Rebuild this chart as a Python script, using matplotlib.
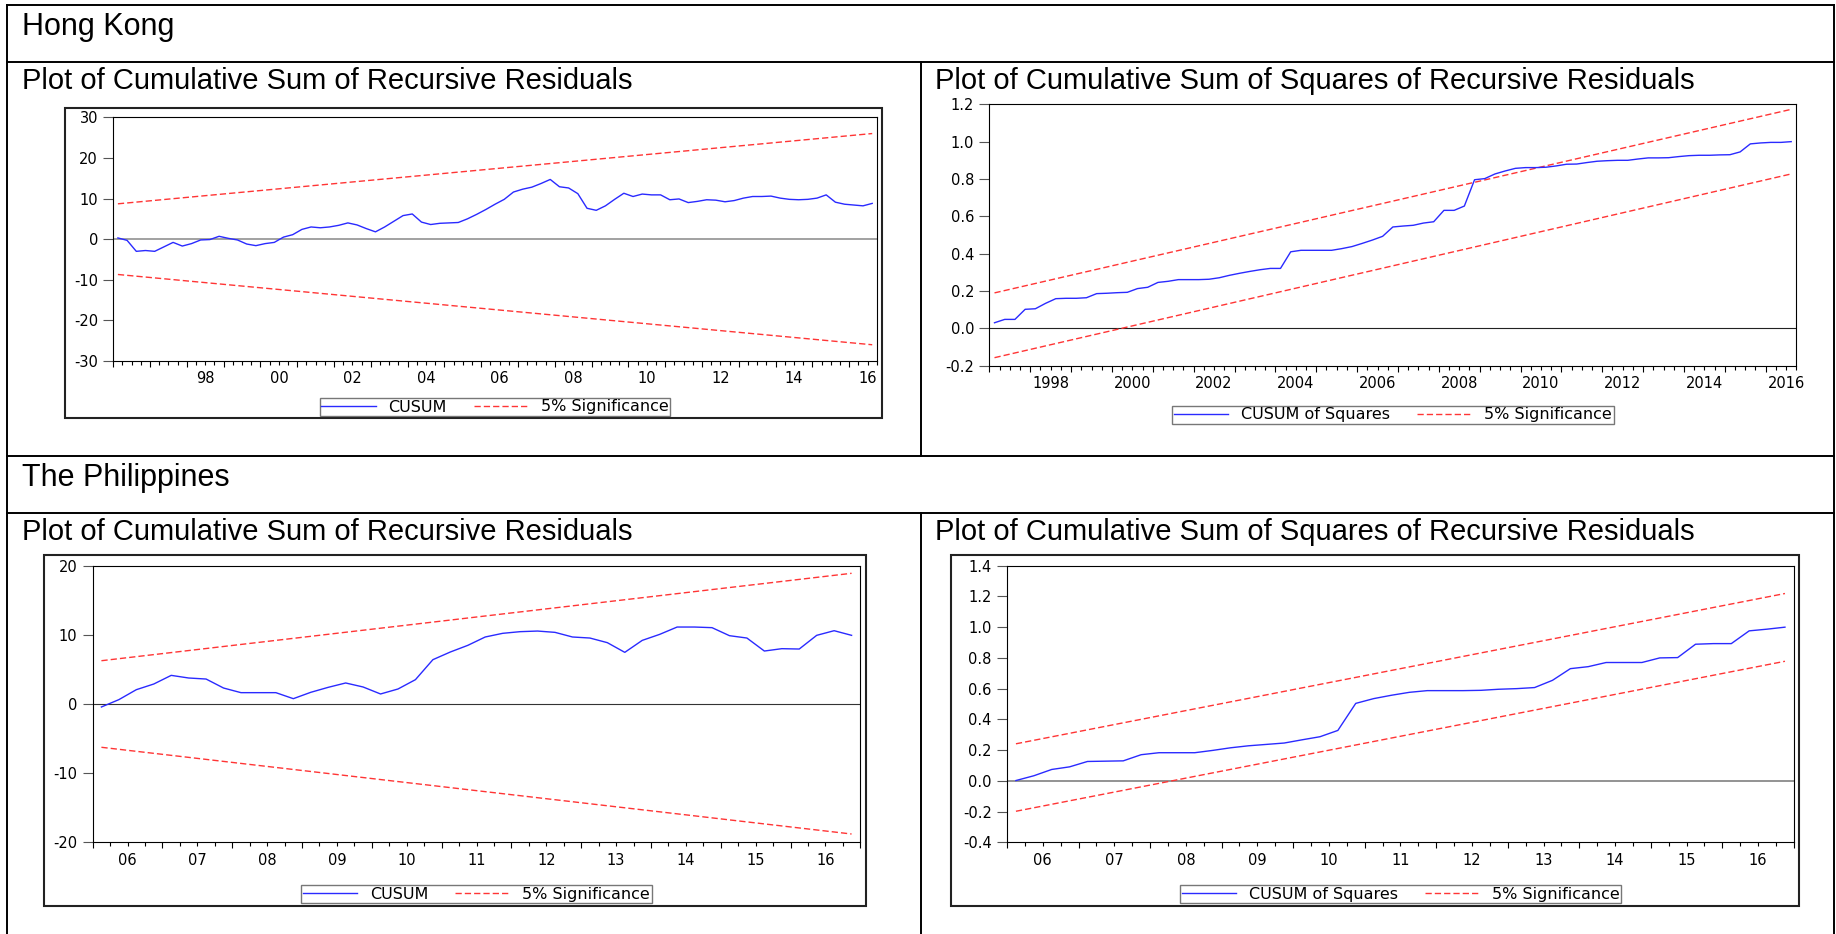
import matplotlib
matplotlib.use("Agg")
import matplotlib.pyplot as plt
from matplotlib.lines import Line2D
from matplotlib.patches import Rectangle
import numpy as np

plt.rcParams["axes.unicode_minus"] = False
plt.rcParams["font.family"] = ["DejaVu Sans"]

W, H = 1836, 934
fig = plt.figure(figsize=(W / 100, H / 100), dpi=100)
fig.patch.set_facecolor("white")

##----Data (quarterly)----
hk_start = (1996, 1)
hk_cusum = [0.3, -0.3, -3.0, -2.8, -3.0, -1.9, -0.8, -1.7, -1.1, -0.2,
            -0.1, 0.7, 0.2, -0.2, -1.2, -1.6, -1.1, -0.8, 0.5, 1.1,
            2.4, 3.0, 2.8, 3.0, 3.4, 4.0, 3.5, 2.6, 1.8, 3.0,
            4.4, 5.8, 6.2, 4.2, 3.6, 3.9, 4.0, 4.1, 5.0, 6.1,
            7.3, 8.6, 9.8, 11.6, 12.3, 12.8, 13.7, 14.7, 12.9, 12.6,
            11.2, 7.6, 7.1, 8.2, 9.8, 11.3, 10.5, 11.1, 10.9, 10.9,
            9.7, 9.9, 9.0, 9.3, 9.7, 9.6, 9.2, 9.5, 10.1, 10.5,
            10.5, 10.6, 10.1, 9.8, 9.7, 9.8, 10.1, 10.9, 9.1, 8.6,
            8.4, 8.2, 8.8]
hk_cusum_upper = [8.7, 26.0]
hk_cusum_lower = [-8.7, -26.0]

hk_sq_start = (1997, 1)
hk_cusumsq = [0.030, 0.048, 0.048, 0.102, 0.105, 0.134, 0.159, 0.161, 0.161, 0.164,
              0.186, 0.188, 0.191, 0.193, 0.213, 0.220, 0.246, 0.252, 0.261, 0.261,
              0.261, 0.263, 0.271, 0.284, 0.295, 0.305, 0.314, 0.321, 0.321, 0.410,
              0.418, 0.418, 0.418, 0.418, 0.427, 0.438, 0.455, 0.473, 0.493, 0.543,
              0.548, 0.552, 0.564, 0.571, 0.632, 0.632, 0.655, 0.796, 0.802, 0.827,
              0.843, 0.857, 0.861, 0.861, 0.863, 0.870, 0.879, 0.880, 0.888, 0.895,
              0.898, 0.900, 0.900, 0.907, 0.913, 0.913, 0.914, 0.920, 0.925, 0.927,
              0.927, 0.929, 0.930, 0.945, 0.988, 0.993, 0.996, 0.996, 1.000]
hk_sq_upper = [0.19, 1.173]
hk_sq_lower = [-0.157, 0.827]

ph_start = (2006, 1)
ph_cusum = [-0.43, 0.63, 2.07, 2.89, 4.14, 3.76, 3.61, 2.31, 1.64, 1.64,
            1.64, 0.77, 1.69, 2.41, 3.04, 2.46, 1.45, 2.17, 3.52, 6.41,
            7.52, 8.48, 9.69, 10.22, 10.46, 10.55, 10.36, 9.69, 9.54, 8.87,
            7.47, 9.2, 10.07, 11.13, 11.13, 11.04, 9.88, 9.54, 7.66, 8.0,
            7.95, 9.93, 10.6, 9.93]
ph_cusum_upper = [6.26, 18.9]
ph_cusum_lower = [-6.26, -18.8]

ph_cusumsq = [0.002, 0.033, 0.074, 0.091, 0.126, 0.128, 0.130, 0.170, 0.183, 0.183,
              0.183, 0.198, 0.215, 0.228, 0.237, 0.246, 0.267, 0.287, 0.328, 0.504,
              0.535, 0.557, 0.576, 0.587, 0.587, 0.587, 0.589, 0.596, 0.600, 0.607,
              0.654, 0.730, 0.743, 0.770, 0.770, 0.770, 0.800, 0.802, 0.889, 0.893,
              0.893, 0.976, 0.987, 1.000]
ph_sq_upper = [0.241, 1.219]
ph_sq_lower = [-0.198, 0.778]

cusum_ticks_hk = [-30, -20, -10, 0, 10, 20, 30]
cusum_ticks_ph = [-20, -10, 0, 10, 20]
sq_ticks_hk = [-0.2, 0.0, 0.2, 0.4, 0.6, 0.8, 1.0, 1.2]
sq_ticks_ph = [-0.4, -0.2, 0.0, 0.2, 0.4, 0.6, 0.8, 1.0, 1.2, 1.4]

hk_label_years = list(range(1998, 2017, 2))
ph_label_years = list(range(2006, 2017))

TITLE_FONT = "Liberation Sans"
BLUE = "#2a2aff"
RED = "#ff3535"
TICK_FS = 10.5
LEG_FS = 11.5


def fx(px):
    return px / W


def fy(py):
    return 1 - py / H


def panel(box, values, start, upper, lower, ylim, yticks, yfmt,
          label_years, label_fmt, zero_color, zero_lw, name, leg_center):
    l, t, r, b = box
    ax = fig.add_axes([fx(l), fy(b), (r - l) / W, (b - t) / H])
    n = len(values)
    x0 = start[0] + (start[1] - 1) / 4
    x = x0 + (np.arange(n) + 0.5) / 4
    ax.axhline(0, color=zero_color, lw=zero_lw, zorder=1)
    ax.plot(x, values, color=BLUE, lw=1.0, label=name, zorder=3)
    ax.plot([x[0], x[-1]], upper, color=RED, lw=1.0, dashes=(4.5, 2.2),
            label="5% Significance", zorder=2)
    ax.plot([x[0], x[-1]], lower, color=RED, lw=1.0, dashes=(4.5, 2.2), zorder=2)
    x1 = x0 + n / 4
    ax.set_xlim(x0, x1)
    ax.set_ylim(*ylim)

    years = np.arange(np.ceil(x0), np.floor(x1) + 1)
    ax.set_xticks(years, labels=[])
    ax.set_xticks(np.arange(x0, x1 + 0.01, 0.25), minor=True)
    ax.tick_params(axis="x", which="major", length=4.5, width=0.8, direction="out")
    ax.tick_params(axis="x", which="minor", length=2.8, width=0.8, direction="out")

    ax.set_yticks(yticks, labels=[yfmt.format(v) for v in yticks])
    ax.tick_params(axis="y", length=7, width=0.8, pad=4, labelsize=TICK_FS, color="#555555")

    sec = ax.secondary_xaxis("bottom")
    sec.set_xticks([y + 0.5 for y in label_years], labels=[label_fmt(y) for y in label_years])
    sec.tick_params(length=0, pad=7.5, labelsize=TICK_FS)
    sec.spines["bottom"].set_visible(False)

    for s in ax.spines.values():
        s.set_linewidth(0.8)
        s.set_color("black")

    leg = ax.legend(loc="center", bbox_to_anchor=(fx(leg_center[0]), fy(leg_center[1])),
                    bbox_transform=fig.transFigure, ncol=2, frameon=True, fancybox=False,
                    edgecolor="#555555", fontsize=LEG_FS, handlelength=3.4,
                    handletextpad=0.8, columnspacing=1.7, borderpad=0.1,
                    borderaxespad=0)
    leg.get_frame().set_linewidth(1.0)
    return ax


def frame(l, t, r, b):
    fig.add_artist(Rectangle((fx(l), fy(b)), (r - l) / W, (b - t) / H,
                             transform=fig.transFigure, fill=False,
                             edgecolor="#222222", lw=1.5, zorder=0))


def hline(y, x0=7, x1=1834):
    fig.add_artist(Line2D([fx(x0), fx(x1)], [fy(y), fy(y)], color="black", lw=1.4))


def vline(x, y0, y1):
    fig.add_artist(Line2D([fx(x), fx(x)], [fy(y0), fy(y1)], color="black", lw=1.4))


##----Table grid----
for yy in [4.7, 61.7, 455.7, 512.7]:
    hline(yy)
vline(7, 4.7, 934)
vline(1834, 4.7, 934)
vline(920.7, 61.7, 455.7)
vline(920.7, 512.7, 934)

##----Headings----
fig.text(fx(22), fy(35), "Hong Kong", fontsize=22, family=TITLE_FONT, va="baseline")
fig.text(fx(22), fy(486), "The Philippines", fontsize=22, family=TITLE_FONT, va="baseline")
t_cusum = "Plot of Cumulative Sum of Recursive Residuals"
t_sq = "Plot of Cumulative Sum of Squares of Recursive Residuals"
fig.text(fx(22), fy(89.3), t_cusum, fontsize=21, family=TITLE_FONT, va="baseline")
fig.text(fx(935.4), fy(89.3), t_sq, fontsize=21, family=TITLE_FONT, va="baseline")
fig.text(fx(22), fy(540), t_cusum, fontsize=21, family=TITLE_FONT, va="baseline")
fig.text(fx(935.4), fy(540), t_sq, fontsize=21, family=TITLE_FONT, va="baseline")

##----Graph frames----
frame(64.6, 108.3, 881.5, 417.7)
frame(44, 555, 865.6, 905.7)
frame(951.2, 555, 1799.2, 905.7)

##----Panels----
short = lambda y: f"{y % 100:02d}"
full = lambda y: f"{y}"

panel((113.3, 117.3, 876.8, 361), hk_cusum, hk_start, hk_cusum_upper, hk_cusum_lower,
      (-30, 30), cusum_ticks_hk, "{:.0f}", hk_label_years, short,
      "#9a9a9a", 1.3, "CUSUM", (495, 407))
panel((989.4, 104.3, 1796.3, 365.7), hk_cusumsq, hk_sq_start, hk_sq_upper, hk_sq_lower,
      (-0.2, 1.2), sq_ticks_hk, "{:.1f}", hk_label_years, full,
      "#222222", 0.8, "CUSUM of Squares", (1393.1, 414.7))
panel((92.7, 565.7, 860.3, 842.3), ph_cusum, ph_start, ph_cusum_upper, ph_cusum_lower,
      (-20, 20), cusum_ticks_ph, "{:.0f}", ph_label_years, short,
      "#333333", 0.8, "CUSUM", (476.3, 894.2))
panel((1007, 565.7, 1793.9, 842.3), ph_cusumsq, ph_start, ph_sq_upper, ph_sq_lower,
      (-0.4, 1.4), sq_ticks_ph, "{:.1f}", ph_label_years, short,
      "#8a8a8a", 1.3, "CUSUM of Squares", (1400.8, 894.2))

fig.savefig("out.png", dpi=100, facecolor="white")
